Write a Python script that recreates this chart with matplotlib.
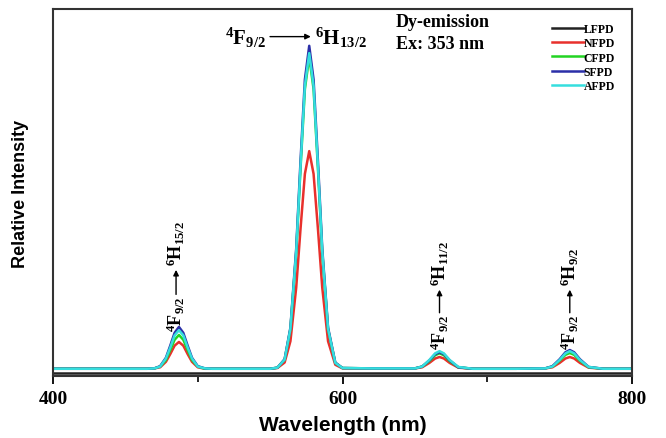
import matplotlib
matplotlib.use("Agg")
import matplotlib.pyplot as plt

# ---------------- data ----------------
wavelength = [400, 450, 465, 470, 474, 478, 481, 484, 487, 490, 493, 496, 500, 505, 510,
              530, 550, 555, 560, 564, 568, 571, 574, 577, 580, 583, 586, 590, 595, 600,
              620, 640, 650, 655, 660, 664, 667, 670, 674, 680, 690, 720,
              740, 745, 750, 754, 757, 760, 764, 770, 780, 800]

lfpd = [0.008] * 52

nfpd = [0.020, 0.020, 0.020, 0.021, 0.024, 0.039, 0.060, 0.083, 0.093, 0.083, 0.060, 0.039, 0.024, 0.020, 0.020,
        0.020, 0.020, 0.022, 0.037, 0.095, 0.241, 0.402, 0.551, 0.613, 0.551, 0.402, 0.241, 0.095, 0.031, 0.021,
        0.021, 0.021, 0.021, 0.024, 0.036, 0.048, 0.052, 0.048, 0.036, 0.023, 0.020, 0.020,
        0.021, 0.024, 0.036, 0.048, 0.052, 0.048, 0.036, 0.023, 0.020, 0.020]

cfpd = [0.020, 0.020, 0.020, 0.021, 0.026, 0.044, 0.071, 0.099, 0.112, 0.099, 0.071, 0.044, 0.026, 0.020, 0.020,
        0.020, 0.020, 0.023, 0.045, 0.128, 0.336, 0.567, 0.782, 0.870, 0.782, 0.567, 0.336, 0.128, 0.036, 0.022,
        0.021, 0.021, 0.021, 0.026, 0.041, 0.057, 0.062, 0.057, 0.041, 0.024, 0.020, 0.020,
        0.021, 0.026, 0.042, 0.058, 0.063, 0.058, 0.042, 0.024, 0.020, 0.020]

sfpd = [0.020, 0.020, 0.020, 0.021, 0.027, 0.050, 0.083, 0.118, 0.134, 0.118, 0.083, 0.050, 0.027, 0.021, 0.020,
        0.020, 0.020, 0.023, 0.046, 0.132, 0.347, 0.587, 0.808, 0.900, 0.808, 0.587, 0.347, 0.132, 0.037, 0.022,
        0.021, 0.021, 0.021, 0.026, 0.043, 0.060, 0.065, 0.060, 0.043, 0.024, 0.020, 0.020,
        0.021, 0.027, 0.046, 0.065, 0.071, 0.065, 0.046, 0.025, 0.020, 0.020]

afpd = [0.020, 0.020, 0.020, 0.021, 0.026, 0.048, 0.078, 0.111, 0.125, 0.111, 0.078, 0.048, 0.026, 0.021, 0.020,
        0.020, 0.020, 0.023, 0.045, 0.129, 0.340, 0.574, 0.791, 0.880, 0.791, 0.574, 0.340, 0.129, 0.036, 0.022,
        0.021, 0.021, 0.021, 0.026, 0.044, 0.062, 0.068, 0.062, 0.044, 0.025, 0.020, 0.020,
        0.021, 0.026, 0.044, 0.062, 0.068, 0.062, 0.044, 0.025, 0.020, 0.020]

series_names = ["LFPD", "NFPD", "CFPD", "SFPD", "AFPD"]
series_values = [lfpd, nfpd, cfpd, sfpd, afpd]
series_colors = ["#222222", "#e8302c", "#22d422", "#2b2fa8", "#35dede"]

xticks = [400, 600, 800]
xminor = [500, 700]

# ---------------- style ----------------
plt.rcParams["mathtext.fontset"] = "custom"
plt.rcParams["mathtext.rm"] = "Liberation Serif:bold"
plt.rcParams["mathtext.bf"] = "Liberation Serif:bold"
plt.rcParams["mathtext.it"] = "Liberation Serif:bold"

serif = "Liberation Serif"
sans = "Liberation Sans"

fig = plt.figure(figsize=(6.66, 4.39), dpi=100)
ax = fig.add_axes([0.0796, 0.141, 0.8694, 0.836])

for name, vals, col in zip(series_names, series_values, series_colors):
    ax.plot(wavelength, vals, color=col, lw=1.8, label=name)

ax.set_xlim(400, 800)
ax.set_ylim(0, 1)
ax.set_xticks(xticks)
ax.set_xticks(xminor, minor=True)
ax.set_yticks([])
ax.tick_params(axis="x", which="major", direction="out", length=6, width=1.3,
               labelsize=14, pad=4)
ax.tick_params(axis="x", which="minor", direction="out", length=4, width=1.2)
for lab in ax.get_xticklabels():
    lab.set_fontfamily(serif)
    lab.set_fontweight("bold")
for sp in ax.spines.values():
    sp.set_linewidth(1.5)
    sp.set_color("#333333")

ax.set_xlabel("Wavelength (nm)", fontfamily=sans, fontweight="bold", fontsize=15, labelpad=6)
ax.set_ylabel("Relative Intensity", fontfamily=sans, fontweight="bold", fontsize=13, labelpad=17)

leg = ax.legend(loc="upper right", bbox_to_anchor=(0.985, 0.985), frameon=False,
                prop={"family": serif, "weight": "bold", "size": 8.5},
                handlelength=2.7, handletextpad=0.0, labelspacing=0.2, borderaxespad=0.3)

# Header text
ax.text(637, 0.967, "Dy-emission", fontfamily=serif, fontweight="bold", fontsize=13,
        ha="left", va="center")
ax.text(637, 0.905, "Ex: 353 nm", fontfamily=serif, fontweight="bold", fontsize=13,
        ha="left", va="center")

# Main transition label
ax.text(547, 0.905, r"$^{4}\mathrm{F}_{9/2}$", fontsize=15, ha="right", va="baseline")
ax.annotate("", xy=(580, 0.925), xytext=(548, 0.925),
            arrowprops=dict(arrowstyle="-|>", color="black", lw=1.0, mutation_scale=8))
ax.text(581, 0.905, r"$^{6}\mathrm{H}_{13/2}$", fontsize=15, ha="left", va="baseline")

# Rotated labels at the smaller peaks
def vlabel(x, y0, y1, y2, upper):
    ax.text(x, y0, r"$^{4}\mathrm{F}_{9/2}$", fontsize=13, rotation=90,
            ha="center", va="bottom")
    ax.annotate("", xy=(x, y2), xytext=(x, y1),
                arrowprops=dict(arrowstyle="-|>", color="black", lw=1.0, mutation_scale=8))
    ax.text(x, y2 + 0.005, upper, fontsize=13, rotation=90, ha="center", va="bottom")

vlabel(485, 0.123, 0.215, 0.297, r"$^{6}\mathrm{H}_{15/2}$")
vlabel(667, 0.074, 0.165, 0.243, r"$^{6}\mathrm{H}_{11/2}$")
vlabel(757, 0.074, 0.165, 0.243, r"$^{6}\mathrm{H}_{9/2}$")

fig.savefig("out.png", dpi=100)
